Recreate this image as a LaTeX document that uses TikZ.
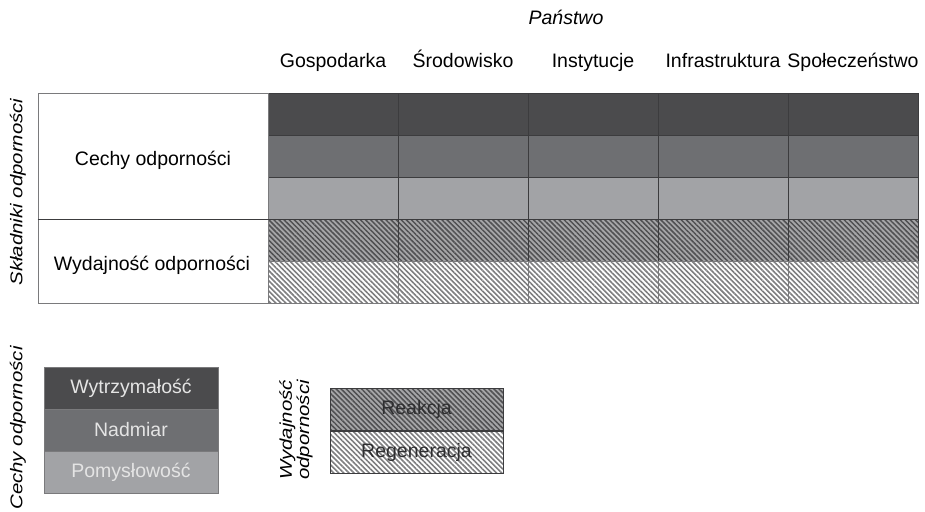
\documentclass[tikz,border=0pt]{standalone}
\usepackage{fontspec}
\setmainfont{Liberation Sans}
\usetikzlibrary{patterns.meta}

\definecolor{strongfill}{HTML}{4B4B4D}
\definecolor{middlefill}{HTML}{6E6F72}
\definecolor{lightfill}{HTML}{A2A3A6}
\definecolor{hatchback}{HTML}{A6A6A8}
\definecolor{hatchdark}{HTML}{505052}
\definecolor{hatchlight}{HTML}{7E7E80}
\definecolor{gridline}{HTML}{3C3C3E}
\definecolor{boxline}{HTML}{7A7A7C}
\definecolor{paletext}{HTML}{E4E4E4}
\definecolor{darktext}{HTML}{2E2E30}

\tikzset{
  label font/.style={font=\fontsize{19.5}{21}\selectfont},
  side font/.style={font=\fontsize{17}{16}\selectfont\itshape, rotate=90, xscale=1.2},
  cell/.style={draw=gridline, line width=1pt, minimum width=130pt, minimum height=42pt},
  reaction hatch/.style={preaction={fill=hatchback},
    pattern={Lines[angle=-45,distance=3.6pt,line width=1.5pt]}, pattern color=hatchdark},
  recovery hatch/.style={preaction={fill=white},
    pattern={Lines[angle=-45,distance=3.6pt,line width=1.6pt]}, pattern color=hatchlight},
  legendbox/.style={draw=boxline, line width=0.8pt, minimum width=174pt, minimum height=42pt}
}

\begin{document}
\begin{tikzpicture}[x=1pt,y=-1pt,every node/.style={inner sep=0pt, label font}]
\useasboundingbox (0,0) rectangle (925,511);

% header
\node[font=\fontsize{19.5}{21}\selectfont\itshape, anchor=base] (state) at (566,25) {Państwo};
\foreach \lbl [count=\c] in {Gospodarka,Środowisko,Instytucje,Infrastruktura,Społeczeństwo}
  \node[anchor=base] (col\c) at (203+130*\c,67) {\lbl};

% grid of the table
\foreach \c in {1,...,5}{
  \node[cell, fill=strongfill] (strong\c) at (203+130*\c,114) {};
  \node[cell, fill=middlefill] (middle\c) at (203+130*\c,156) {};
  \node[cell, fill=lightfill] (light\c) at (203+130*\c,198) {};
  \node[cell, reaction hatch] (react\c) at (203+130*\c,240) {};
  \node[cell, recovery hatch, draw=boxline] (regen\c) at (203+130*\c,282) {};
}

% row headings
\node[draw=boxline, line width=1pt, fill=white, minimum width=230pt, minimum height=126pt] (traits) at (153,156) {};
\node at (153,160) {Cechy odporności};
\node[draw=boxline, line width=1pt, fill=white, minimum width=230pt, minimum height=84pt] (output) at (153,261) {};
\node at (152,265) {Wydajność odporności};
\draw[gridline, line width=1pt] (traits.south west) -- (traits.south east);
\node[side font] (parts) at (18,192) {Składniki odporności};

% legend: traits
\node[side font] (traitskey) at (18,428) {Cechy odporności};
\node[legendbox, fill=strongfill, text=paletext] (robust) at (131,388) {Wytrzymałość};
\node[legendbox, fill=middlefill, text=paletext] (spare) at (131,430) {Nadmiar};
\node[legendbox, fill=lightfill, text=paletext] (resource) at (131,472) {Pomysłowość};

% legend: output
\node[side font, align=center] (outputkey) at (296,430) {Wydajność\\odporności};
\node[legendbox, reaction hatch, draw=gridline, minimum width=173pt, text=darktext] (reaction) at (416.5,409.5) {Reakcja};
\node[legendbox, recovery hatch, draw=gridline, minimum width=173pt, text=darktext] (recovery) at (416.5,452) {Regeneracja};
\end{tikzpicture}
\end{document}
